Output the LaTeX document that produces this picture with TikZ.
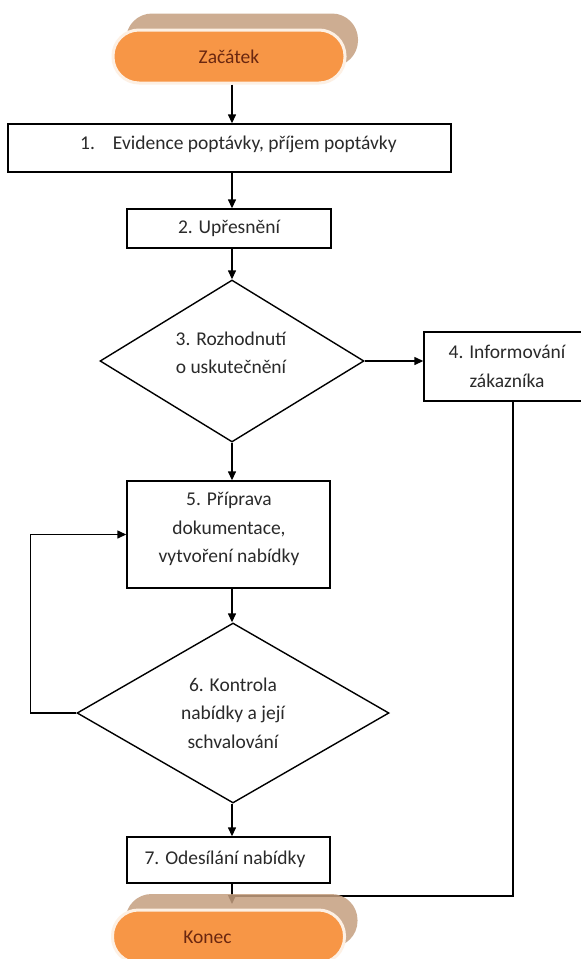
\documentclass[tikz,border=0pt]{standalone}
\usepackage{fontspec}
\setmainfont{Carlito}
\usetikzlibrary{shapes.geometric,arrows.meta}
\definecolor{termfill}{HTML}{F79646}
\definecolor{termshadow}{HTML}{C59F80}
\definecolor{termrim}{HTML}{FDF0E4}
\definecolor{termtext}{HTML}{6A2710}
\definecolor{ink}{HTML}{2A2A2A}
\pgfdeclarelayer{front}
\pgfsetlayers{main,front}
\begin{document}
\begin{tikzpicture}[x=1pt,y=-1pt,
  txt/.style={font=\fontsize{19.5}{28.5}\selectfont, text=ink, align=center, inner sep=0pt},
  box/.style={draw=black, line width=1.4pt, fill=white, rectangle, inner sep=0pt,
              font=\fontsize{19.5}{28.5}\selectfont, text=ink, align=center},
  decision/.style={draw=black, line width=1.4pt, fill=white, diamond, aspect=2, inner sep=0pt,
              font=\fontsize{19.5}{28.5}\selectfont, text=ink, align=center},
  terminal/.style={rectangle, rounded corners=26pt, fill=termfill, draw=termrim, line width=3pt,
              minimum width=232pt, minimum height=53pt, inner sep=0pt,
              font=\fontsize{19.5}{24}\selectfont, text=termtext},
  termsh/.style={rectangle, rounded corners=26pt, fill=termshadow, fill opacity=0.85,
              minimum width=232pt, minimum height=53pt, inner sep=0pt},
  link/.style={draw=black, line width=1.4pt},
  arr/.style={link, -{Triangle[length=9pt,width=8pt]}},
]
\useasboundingbox (0,0) rectangle (581,959);
\clip (0,0) rectangle (581,959);
\fill[white] (0,0) rectangle (581,959);

\coordinate (colx) at (232,0);

% start terminal with its offset shadow
\node[termsh] (startsh) at (242,40) {};
\node[terminal] (start) at (229,56.5) {Začátek};

% process boxes and decisions
\node[box, minimum width=443pt, minimum height=48pt] (box1) at (229.5,148) {};
\node[txt, anchor=west] (box1t) at (80,144) {1.\hspace{18pt}Evidence poptávky, příjem poptávky};

\node[box, minimum width=204pt, minimum height=39pt] (box2) at (229,228.5) {2. Upřesnění};

\node[decision, minimum width=264pt, minimum height=162pt] (d3) at (232,361) {};
\node[txt] (d3t) at (231,353) {3. Rozhodnutí\\o uskutečnění};

\node[box, minimum width=166pt, minimum height=69pt] (box4) at (507,366.5) {4. Informování\\zákazníka};

\node[box, minimum width=203pt, minimum height=107pt] (box5) at (228.5,534.5) {};
\node[txt] (box5t) at (229,529) {5. Příprava\\dokumentace,\\vytvoření nabídky};

\node[decision, minimum width=312pt, minimum height=180pt] (d6) at (233,713) {6. Kontrola\\nabídky a její\\schvalování};

\node[box, minimum width=203pt, minimum height=46pt] (box7) at (228.5,860) {};
\node[txt] (box7t) at (225,859) {7. Odesílání nabídky};

% end terminal sits above the connectors that run into it
\begin{pgfonlayer}{front}
\node[termsh] (konecsh) at (241.5,920.5) {};
\node[terminal] (konec) at (228.5,936.5) {};
\node[txt, text=termtext] (konect) at (207.5,937) {Konec};
\end{pgfonlayer}

\coordinate (kin) at (232,904);
\coordinate (join) at (232,896);

% main flow
\draw[arr] (start.south -| colx) -- (box1.north -| colx);
\draw[arr] (box1.south -| colx) -- (box2.north -| colx);
\draw[arr] (box2.south -| colx) -- (d3.north);
\draw[arr] (d3.south) -- (box5.north -| colx);
\draw[arr] (box5.south -| colx) -- (d6.north -| colx);
\draw[arr] (d6.south -| colx) -- (box7.north -| colx);
\draw[arr] (box7.south -| colx) -- (kin);

% side branch and return loop
\draw[arr] (d3.east) -- (d3.east -| box4.west);
\draw[link] ([xshift=6pt]box4.south) |- (join);
\draw[arr] (d6.west) -- ++(-46,0) |- (box5.west);
\end{tikzpicture}
\end{document}
